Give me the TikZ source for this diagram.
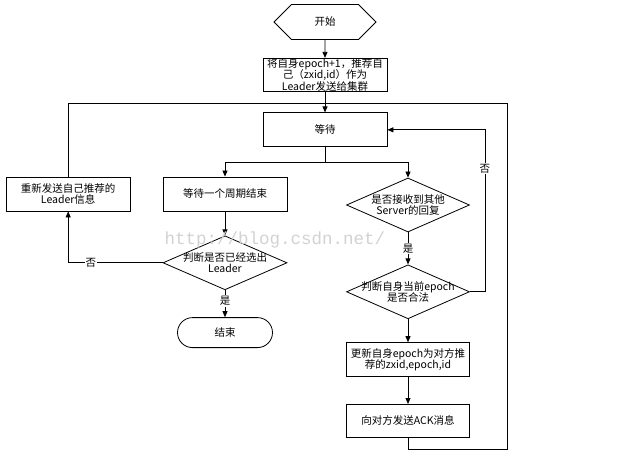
\documentclass[tikz,border=0pt]{standalone}
\usepackage{fontspec}
\setmainfont{Noto Sans CJK SC}
\newfontfamily\markfont{Liberation Mono}
\usepackage{tikz}
\usetikzlibrary{positioning, arrows.meta, shapes.geometric, shapes.symbols}

\begin{document}
\begin{tikzpicture}[x=1pt, y=-1pt, font=\fontsize{10.5}{11.5}\selectfont,
  line width=0.8pt, >={Triangle[length=6pt, width=5pt]},
  box/.style={draw, fill=white, minimum width=124pt, minimum height=34pt, align=center, inner sep=1pt},
  dia/.style={draw, fill=white, diamond, inner sep=0pt, minimum width=124pt, minimum height=54pt},
  yesno/.style={fill=white, inner sep=1pt}]
\useasboundingbox (0,0) rectangle (636,470);

\node[draw, signal, signal to=west and east, minimum width=102pt, minimum height=35pt] (start) at (325,22) {开始};
\node[box, below=18pt of start, inner ysep=0pt, minimum height=32pt] (send) {将自身epoch+1，推荐自\\己（zxid,id）作为\\Leader发送给集群};
\node[box, below=21pt of send] (wait) {等待};
\node[box] (period) at (225,194) {等待一个周期结束};
\node[box, left=32pt of period] (resend) {重新发送自己推荐的\\Leader信息};
\node[dia, below=24pt of period, label={[align=center]center:判断是否已经选出\\Leader}] (elected) {};
\node[draw, rounded corners=15pt, minimum width=95pt, minimum height=30pt, below=27pt of elected] (theend) {结束};
\node[dia, minimum width=123pt, label={[align=center]center:是否接收到其他\\Server的回复}] (reply) at (408,205) {};
\node[dia, minimum width=123pt, below=32pt of reply, label={[align=center]center:判断自身当前epoch\\是否合法}] (legal) {};
\node[box, minimum width=123pt, below=23pt of legal] (update) {更新自身epoch为对方推\\荐的zxid,epoch,id};
\node[box, minimum width=123pt, minimum height=33pt, below=27pt of update] (ack) {向对方发送ACK消息};
\coordinate (topright) at (507,103);

\draw[->] (start) -- (send);
\draw[->] (send) -- (wait);
\draw (resend.north) |- (topright);
\draw (ack.south) -- ++(0,12) -| (topright);
\draw[->] (wait.south) -- ++(0,15) -| (period.north);
\draw[->] (wait.south) -- ++(0,15) -| (reply.north);
\draw[->] (period) -- (elected);
\draw[->] (elected.west) -| node[yesno, pos=0.38] {否} (resend.south);
\draw[->] (elected.south) -- node[yesno, pos=0.4] {是} (theend.north);
\draw[->] (reply.south) -- node[yesno] {是} (legal.north);
\draw[->] (legal.east) -- ++(15,0) |- node[yesno, pos=0.38] {否} (wait.east);
\draw[->] (legal) -- (update);
\draw[->] (update) -- (ack);

% watermark
\node[font=\markfont\fontsize{17.5}{20}\selectfont, text=gray!35] (mark) at (275,240) {http://blog.csdn.net/};
\end{tikzpicture}
\end{document}
